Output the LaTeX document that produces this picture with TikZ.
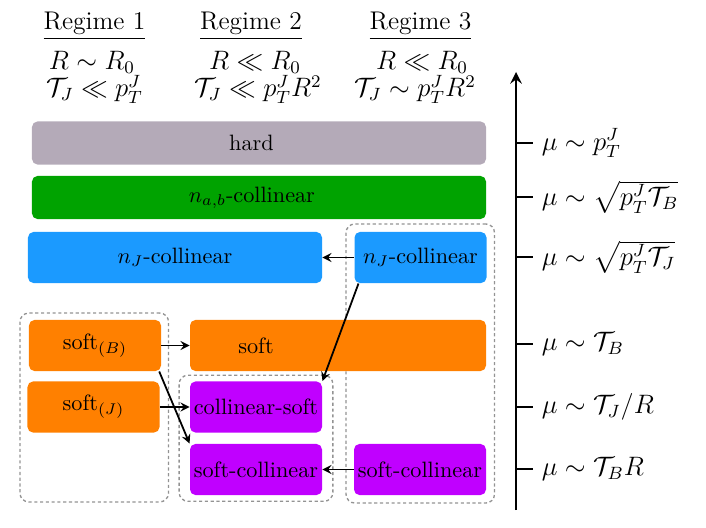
\documentclass[tikz,border=0pt]{standalone}
\usepackage{amsmath,amssymb}
\usepackage{tikz}
\usetikzlibrary{arrows, positioning, fit, backgrounds}
\definecolor{hardgray}{RGB}{180,170,184}
\definecolor{collgreen}{RGB}{0,163,0}
\definecolor{jetblue}{RGB}{27,154,255}
\definecolor{softorange}{RGB}{255,128,0}
\definecolor{csviolet}{RGB}{192,0,255}
\tikzstyle{mode} = [rectangle, rounded corners=2.5pt, minimum height=23pt, inner sep=1pt, align=center]
\tikzstyle{widemode} = [mode, minimum width=204.3pt, minimum height=19.4pt]
\tikzstyle{halfmode} = [mode, minimum width=132.3pt]
\tikzstyle{smallmode} = [mode, minimum width=59.4pt]
\tikzstyle{head} = [font=\fontsize{11.5}{14}\selectfont, anchor=base, inner sep=0pt]
\tikzstyle{regimebox} = [rectangle, rounded corners=4pt, draw=gray!85, line width=0.6pt, dash pattern=on 1.4pt off 1.2pt]
\tikzstyle{arrow2} = [thick,->,>=stealth]
\tikzstyle{scaleaxis} = [line width=1.3pt,->,>=stealth]

\begin{document}
\begin{tikzpicture}[x=0.45pt, y=-0.45pt]
            \useasboundingbox (0,0) rectangle (706,528);
            % Headers
            \node (reg1) [head] at (94.5,30) {\underline{Regime 1}};
            \node (reg2) [head] at (251,30) {\underline{Regime 2}};
            \node (reg3) [head] at (420.5,30) {\underline{Regime 3}};
            \node (cond1a) [head] at (92,70) {$R\sim R_0$};
            \node (cond2a) [head] at (255,70) {$R\ll R_0$};
            \node (cond3a) [head] at (422,70) {$R\ll R_0$};
            \node (cond1b) [head] at (94.5,97) {$\mathcal{T}_J\ll p_T^J$};
            \node (cond2b) [head] at (258,97) {$\mathcal{T}_J\ll p_T^J R^2$};
            \node (cond3b) [head] at (415,97) {$\mathcal{T}_J\sim p_T^J R^2$};

            % Modes
            \node (hard) [widemode, fill=hardgray, label={[xshift=-3.4pt]center:hard}] at (259,143) {};
            \node (nab) [widemode, fill=collgreen, label={[xshift=-3.2pt]center:$n_{a,b}$-collinear}] at (259,197.5) {};
            \node (nJL) [halfmode, fill=jetblue] at (175,257.5) {$n_J$-collinear};
            \node (nJR) [smallmode, fill=jetblue] at (420.5,257.5) {$n_J$-collinear};
            \node (softB) [smallmode, fill=softorange] at (95,345.5) {soft$_{(B)}$};
            \node (soft) [mode, minimum width=133.2pt, fill=softorange, label={[xshift=-36.9pt]center:soft}] at (338,345.5) {};
            \node (softJ) [smallmode, fill=softorange] at (93.5,407) {soft$_{(J)}$};
            \node (colsoft) [smallmode, fill=csviolet] at (256,407) {collinear-soft};
            \node (scL) [smallmode, fill=csviolet] at (256,469.5) {soft-collinear};
            \node (scR) [smallmode, fill=csviolet] at (420,469.5) {soft-collinear};

            % Regime groups
            \begin{scope}[on background layer]
                \node (grp1) [regimebox, inner xsep=3.2pt, inner ysep=2.9pt, fit=(softB)(softJ)(softJ.west |- scL.south)] {};
                \node (grp2) [regimebox, inner xsep=4.7pt, inner ysep=2.6pt, fit=(colsoft)(scL)] {};
                \node (grp3) [regimebox, inner xsep=3.4pt, inner ysep=3.4pt, fit=(nJR)(scR)] {};
            \end{scope}

            % Edges
            \draw [arrow2] (nJR) -- (nJL);
            \draw [arrow2] ([xshift=2pt]nJR.south west) -- (colsoft.north east);
            \draw [arrow2] (softB) -- (soft);
            \draw [arrow2] ([xshift=-1pt]softB.south east) -- (scL.north west);
            \draw [arrow2] (softJ) -- (colsoft);
            \draw [arrow2] (scR) -- (scL);

            % Scale axis
            \draw [scaleaxis] (516,510) -- (516,72);
            \foreach \y/\lab in {143/{p_T^J}, 197/{\sqrt{p_T^J\mathcal{T}_B}}, 257/{\sqrt{p_T^J\mathcal{T}_J}}, 344/{\mathcal{T}_B}, 407/{\mathcal{T}_J/R}, 469/{\mathcal{T}_B R}}
                \draw [line width=1.3pt] (516,\y) -- (533,\y) node[right, font=\large] {$\mu\sim\lab$};
        \end{tikzpicture}
\end{document}
